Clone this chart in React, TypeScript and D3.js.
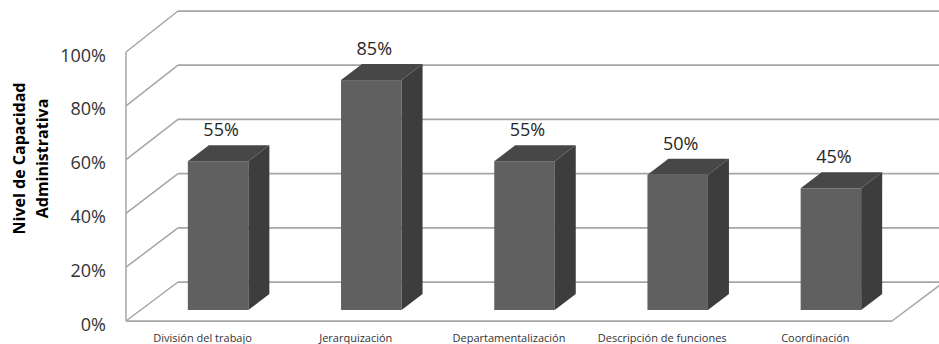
import React from "react";
import * as d3 from "d3";

const categories = [
  "División del trabajo",
  "Jerarquización",
  "Departamentalización",
  "Descripción de funciones",
  "Coordinación",
];
const values = [0.55, 0.85, 0.55, 0.5, 0.45];
const yTicks = [0, 0.2, 0.4, 0.6, 0.8, 1.0];
const titleLines = ["Nivel de Capacidad", "Administrativa"];

const W = 939;
const H = 344;

// geometry of the 3D box
const floorLeft = 126;
const floorRight = 892;
const depthDx = 52;
const depthDy = -39;
const barShiftX = 15.5;
const barShiftY = -11;
const barDepthX = 21;
const barDepthY = -16;

export default function App() {
  const yFront = d3.scaleLinear().domain([0, 1]).range([321, 52]);
  const yBack = d3.scaleLinear().domain([0, 1]).range([282, 11]);
  const yBar = d3.scaleLinear().domain([0, 1]).range([310, 39.5]);
  const xFloor = d3
    .scaleBand<string>()
    .domain(categories)
    .range([floorLeft, floorRight])
    .paddingInner(0)
    .paddingOuter(0);
  const xBar = d3
    .scaleBand<string>()
    .domain(categories)
    .range([floorLeft + barShiftX, floorRight + barShiftX]);
  const barW = xBar.bandwidth() * 0.395;
  const fmt = d3.format(".0%");

  const grid = "#a6a6a6";
  const backLeft = floorLeft + depthDx;
  const backRight = floorRight + depthDx;

  return (
    <svg
      width={W}
      height={H}
      style={{ position: "absolute", left: 0, top: 0, background: "#fff" }}
      fontFamily="'Open Sans', sans-serif"
    >
      {/* back wall gridlines and side wall lines */}
      {yTicks.map((t) => (
        <g key={t}>
          <line
            x1={backLeft}
            x2={backRight + 10}
            y1={yBack(t)}
            y2={yBack(t)}
            stroke={grid}
            strokeWidth={1.75}
          />
          <line
            x1={floorLeft}
            x2={backLeft}
            y1={yFront(t)}
            y2={yBack(t)}
            stroke={grid}
            strokeWidth={1.5}
          />
        </g>
      ))}
      {/* side wall front edge */}
      <line
        x1={floorLeft}
        x2={floorLeft}
        y1={yFront(1)}
        y2={yFront(0)}
        stroke={grid}
        strokeWidth={1.5}
      />
      {/* floor */}
      <line
        x1={floorLeft}
        x2={floorRight}
        y1={yFront(0)}
        y2={yFront(0)}
        stroke={grid}
        strokeWidth={1.75}
      />
      <line
        x1={floorRight}
        x2={backRight}
        y1={yFront(0)}
        y2={yBack(0)}
        stroke={grid}
        strokeWidth={1.5}
      />

      {/* bars */}
      {categories.map((c, i) => {
        const cx = (xBar(c) as number) + xBar.bandwidth() / 2;
        const xl = cx - barW / 2;
        const xr = cx + barW / 2;
        const yt = yBar(values[i]);
        const yb = yBar(0);
        return (
          <g key={c}>
            <rect x={xl} y={yt} width={barW} height={yb - yt} fill="#606060" />
            <polygon
              points={`${xr},${yt} ${xr + barDepthX},${yt + barDepthY} ${xr + barDepthX},${yb + barDepthY} ${xr},${yb}`}
              fill="#3d3d3d"
            />
            <polygon
              points={`${xl},${yt} ${xr},${yt} ${xr + barDepthX},${yt + barDepthY} ${xl + barDepthX},${yt + barDepthY}`}
              fill="#474747"
            />
            <text
              x={cx + 3}
              y={yt - 25}
              textAnchor="middle"
              fontSize={18}
              fill="#262626"
            >
              {fmt(values[i])}
            </text>
          </g>
        );
      })}

      {/* y tick labels */}
      {yTicks.map((t) => (
        <text
          key={"l" + t}
          x={106}
          y={yFront(t) + 2.5}
          textAnchor="end"
          dominantBaseline="central"
          fontSize={18}
          fill="#333"
        >
          {fmt(t)}
        </text>
      ))}

      {/* category labels */}
      {categories.map((c) => (
        <text
          key={"c" + c}
          x={(xFloor(c) as number) + xFloor.bandwidth() / 2}
          y={341.5}
          textAnchor="middle"
          fontSize={11}
          fill="#333"
        >
          {c}
        </text>
      ))}

      {/* y title */}
      {titleLines.map((line, i) => (
        <text
          key={line}
          transform={`translate(${24.7 + i * 23},158.5) rotate(-90)`}
          textAnchor="middle"
          fontSize={16}
          fontWeight="bold"
          fill="#000"
        >
          {line}
        </text>
      ))}
    </svg>
  );
}
